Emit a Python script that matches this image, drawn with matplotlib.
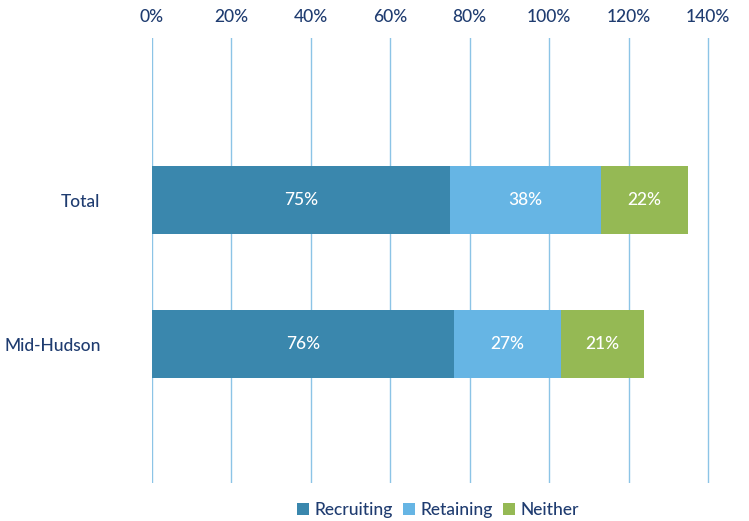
import numpy as np
import matplotlib.pyplot as plt

plt.rcParams['font.family'] = ['Lato', 'DejaVu Sans']
plt.rcParams['font.weight'] = 'medium'

regions = ['Total', 'Mid-Hudson']
recruiting = [75, 76]
retaining = [38, 27]
neither = [22, 21]
series = ['Recruiting', 'Retaining', 'Neither']
colors = ['#3A87AD', '#66B5E4', '#95B954']
ticks = [0, 20, 40, 60, 80, 100, 120, 140]

navy = '#1F3C70'
fs = 12.5

fig = plt.figure(figsize=(7.49, 5.21), dpi=100)
ppu = (708 - 152) / 140
ax = fig.add_axes([152/749, 1-483/521, 141*ppu/749, (483-38)/521])

y = np.arange(len(regions))
left = np.zeros(len(regions))
for name, vals, c in zip(series, [recruiting, retaining, neither], colors):
    bars = ax.barh(y, vals, left=left, height=0.47, color=c, label=name, zorder=3)
    for b, v in zip(bars, vals):
        ax.text(b.get_x() + b.get_width()/2, b.get_y() + b.get_height()/2,
                f'{v}%', ha='center', va='center', color='white', fontsize=fs, zorder=4)
    left += np.array(vals)

ax.set_xlim(0, 141)
ax.set_ylim(1.965, -1.125)
ax.set_xticks(ticks)
ax.set_xticklabels([f'{t}%' for t in ticks])
ax.xaxis.tick_top()
ax.tick_params(axis='x', length=0, pad=9.5, labelsize=fs, labelcolor=navy)
ax.set_yticks(y)
ax.set_yticklabels(regions)
ax.tick_params(axis='y', length=0, pad=37, labelsize=fs, labelcolor=navy)
ax.grid(axis='x', color='#8CC4E6', linewidth=1, zorder=0)
for s in ax.spines.values():
    s.set_visible(False)

fig.legend(loc='center', bbox_to_anchor=(438/749, 1-510/521), ncol=3, frameon=False,
           fontsize=fs, handlelength=0.7, handleheight=0.7, handletextpad=0.3,
           columnspacing=0.6, labelcolor=navy)

fig.savefig('out.png', dpi=100)
